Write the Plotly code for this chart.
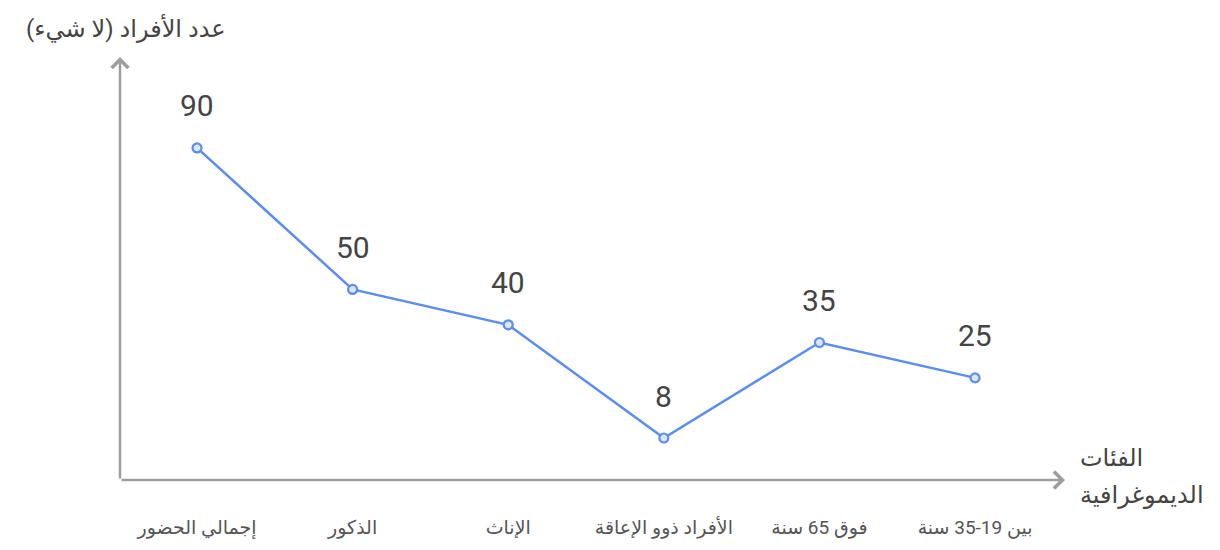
import plotly.graph_objects as go

categories = ["إجمالي الحضور", "الذكور", "الإناث", "الأفراد ذوو الإعاقة", "فوق 65 سنة", "بين 19-35 سنة"]
values = [90, 50, 40, 8, 35, 25]
y_title = "عدد الأفراد (لا شيء)\u200f"
x_title_lines = ["الفئات", "الديموغرافية"]

FONT = "Roboto, DejaVu Sans, sans-serif"
LINE = "#5b8def"
AXIS = "#9e9e9e"

fig = go.Figure()
fig.add_trace(go.Scatter(
    x=list(range(len(categories))), y=values, mode="lines+markers",
    line=dict(color=LINE, width=2.5),
    marker=dict(size=9, color="#dbe6fb", line=dict(color=LINE, width=2.2)),
    hoverinfo="skip", showlegend=False, cliponaxis=False,
))

for i, v in enumerate(values):
    fig.add_annotation(x=i, y=v, text=str(v), showarrow=False, yshift=42,
                       font=dict(family=FONT, size=30, color="#444444"))

# axes with arrows
fig.add_annotation(xref="paper", yref="paper", x=0, y=1, ax=0, ay=423,
                   axref="pixel", ayref="pixel", text="", showarrow=True,
                   arrowhead=4, arrowsize=1.3, arrowwidth=2.5, arrowcolor=AXIS, standoff=0)
fig.add_annotation(xref="paper", yref="paper", x=1, y=0, ax=-945, ay=0,
                   axref="pixel", ayref="pixel", text="", showarrow=True,
                   arrowhead=4, arrowsize=1.3, arrowwidth=2.5, arrowcolor=AXIS, standoff=0)

fig.add_annotation(xref="paper", yref="paper", x=0, y=1, xshift=108, yshift=29,
                   xanchor="right", yanchor="middle", text=y_title, showarrow=False,
                   font=dict(family=FONT, size=24, color="#444444"))
fig.add_annotation(xref="paper", yref="paper", x=1, y=0, xshift=13, yshift=22,
                   xanchor="left", yanchor="middle", text=x_title_lines[0], showarrow=False,
                   font=dict(family=FONT, size=24, color="#444444"))
fig.add_annotation(xref="paper", yref="paper", x=1, y=0, xshift=13, yshift=-15,
                   xanchor="left", yanchor="middle", text=x_title_lines[1], showarrow=False,
                   font=dict(family=FONT, size=24, color="#444444"))

fig.update_layout(
    width=1220, height=550,
    margin=dict(l=112, r=163, t=49, b=78),
    paper_bgcolor="white", plot_bgcolor="white",
    xaxis=dict(range=[-0.495, 5.578], tickmode="array", tickvals=list(range(len(categories))),
               ticktext=categories, showgrid=False, zeroline=False, showline=False,
               ticks="outside", ticklen=30, tickcolor="rgba(0,0,0,0)",
               tickfont=dict(family=FONT, size=19, color="#555555")),
    yaxis=dict(range=[-3.87, 115.7], showgrid=False, zeroline=False, showline=False,
               showticklabels=False),
    font=dict(family=FONT),
)

fig.write_html("out.html")
